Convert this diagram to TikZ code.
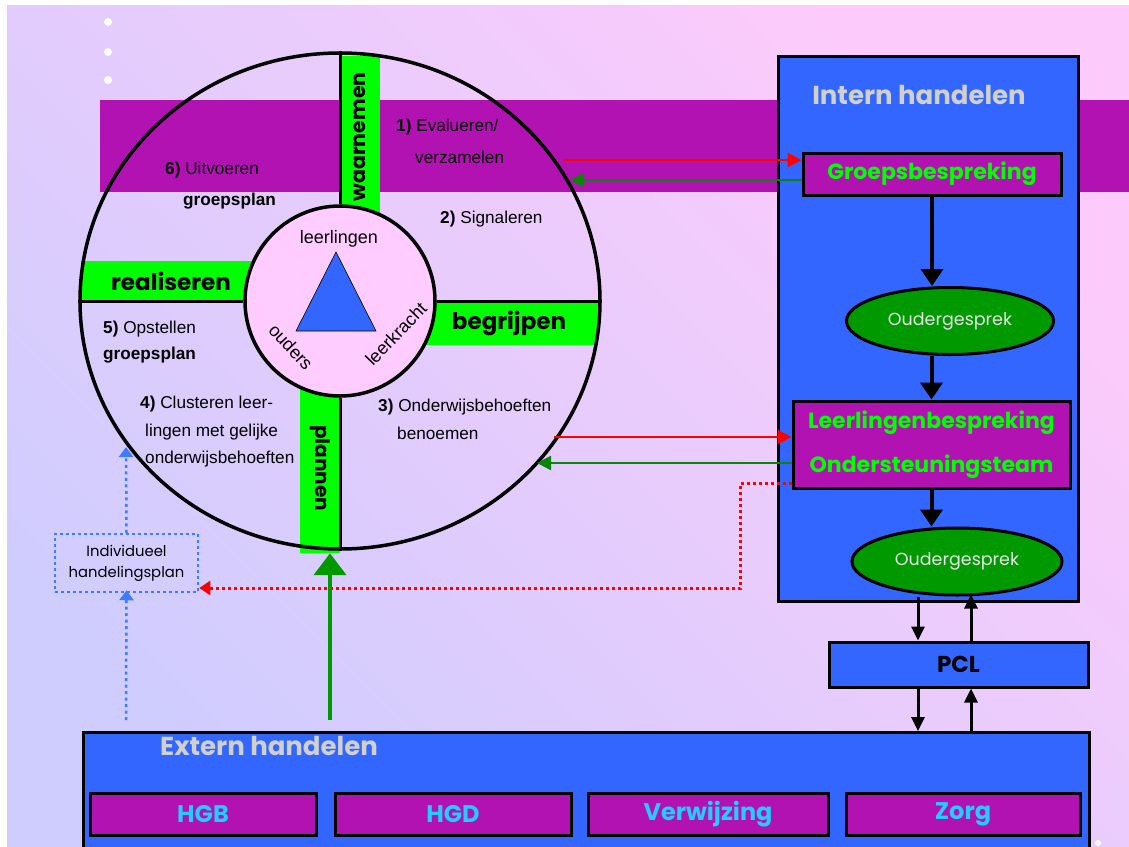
\documentclass[tikz,border=0pt]{standalone}
\usepackage{fontspec}
\setmainfont{Liberation Sans}
\newfontfamily\comic{Poppins}
\usetikzlibrary{arrows.meta,shapes.geometric,calc}
\definecolor{bgpink}{HTML}{FDCBFB}
\definecolor{bglav}{HTML}{CFCDFE}
\definecolor{band}{HTML}{B212B2}
\definecolor{stripgreen}{HTML}{00FF00}
\definecolor{boxblue}{HTML}{3366FF}
\definecolor{ovalgreen}{HTML}{009900}
\definecolor{arrgreen}{HTML}{0A850A}
\definecolor{titlegray}{HTML}{D0D0D0}
\definecolor{ovaltext}{HTML}{E6E6E6}
\definecolor{cyantext}{HTML}{22CCFF}
\definecolor{innerpink}{HTML}{FFCCFF}
\definecolor{dotblue}{HTML}{3F7BFF}
\begin{document}
\begin{tikzpicture}[x=1pt,y=-1pt,
  stripnode/.style={fill=stripgreen, inner sep=0pt, text=black},
  stripfont/.style={font=\comic\bfseries\fontsize{#1}{#1}\selectfont},
  wtext/.style={anchor=west, inner sep=0pt, text=black,
    font=\fontsize{17.2}{18}\selectfont},
  coretext/.style={inner sep=0pt, text=black, font=\fontsize{18}{18}\selectfont},
  purplebox/.style={draw=black, line width=3pt, fill=band, inner sep=0pt},
  bluebox/.style={draw=black, line width=3pt, fill=boxblue, inner sep=0pt},
  greentitle/.style={text=stripgreen, font=\comic\bfseries\fontsize{22}{44}\selectfont},
  cyantitle/.style={text=cyantext, font=\comic\bfseries\fontsize{24}{24}\selectfont},
  graytitle/.style={inner sep=0pt, text=titlegray, font=\comic\bfseries\fontsize{26}{26}\selectfont},
  oval/.style={ellipse, draw=black, line width=3pt, fill=ovalgreen, inner sep=0pt,
    text=ovaltext, font=\comic\fontsize{17.5}{18}\selectfont},
  flow/.style={line width=4pt, -{Triangle[length=17pt,width=22pt]}},
  thinflow/.style={line width=3pt, -{Triangle[length=14pt,width=13pt]}},
  redarr/.style={draw=red, line width=2.5pt, -{Triangle[length=14pt,width=14pt]}},
  greenarr/.style={draw=arrgreen, line width=2.5pt, -{Triangle[length=14pt,width=14pt]}},
  reddot/.style={draw=red, line width=3pt, dash pattern=on 3pt off 3pt,
    -{Triangle[length=11pt,width=14pt]}},
  bluedot/.style={draw=dotblue, line width=2.5pt, dash pattern=on 3pt off 3.5pt,
    -{Triangle[length=10pt,width=14pt]}},
]
\useasboundingbox (0,0) rectangle (1129,846);
% background
\fill[white] (0,0) rectangle (1129,846);
\shade[top color=bgpink, bottom color=bglav, shading angle=-45] (7,5) rectangle (1129,846);
\fill[white] (108,22) circle (4) (108,52) circle (4) (108,80) circle (4) (1098,843) circle (3);
% purple band
\fill[band] (100,100) rectangle (1129,192);

% green strips
\node[stripnode, stripfont=20.5, rotate=90, minimum width=162, minimum height=40] (waar) at (360,137) {waarnemen};
\node[stripnode, stripfont=23, minimum width=180, minimum height=40] (real) at (171,281) {realiseren};
\node[stripnode, stripfont=23, minimum width=178, minimum height=44] (begr) at (509,323) {begrijpen};
\node[stripnode, stripfont=20, rotate=-90, minimum width=170, minimum height=40] (plan) at (320,468) {plannen};

% wheel
\node[ellipse, draw=black, line width=3.5pt, minimum width=520, minimum height=496, inner sep=0pt] (wheel) at (340,301) {};
\node[circle, draw=black, line width=3.5pt, fill=innerpink, minimum size=190, inner sep=0pt] (core) at (340,301) {};
\draw[line width=3pt] (wheel.north) -- (core.north);
\draw[line width=3pt] (core.south) -- (wheel.south);
\draw[line width=3pt] (wheel.west) -- (core.west);
\draw[line width=3pt] (core.east) -- (wheel.east);

% triangle
\filldraw[fill=boxblue, draw=black, line width=0.6pt] (336,252) -- (376,331) -- (296,331) -- cycle;
\node[coretext] (lleer) at (339,239) {leerlingen};
\node[coretext, rotate=-47] (louders) at (291,347) {ouders};
\node[coretext, rotate=46] (lkracht) at (396,334) {leerkracht};

% wheel texts
\node[wtext] (t1a) at (396,127) {\textbf{1)} Evalueren/};
\node[wtext] (t1b) at (415,157) {verzamelen};
\node[wtext] (t6a) at (165,170) {\textbf{6)} Uitvoeren};
\node[wtext] (t6b) at (183,201) {\textbf{groepsplan}};
\node[wtext] (t2) at (440,219) {\textbf{2)} Signaleren};
\node[wtext] (t5a) at (103,329) {\textbf{5)} Opstellen};
\node[wtext] (t5b) at (103,355) {\textbf{groepsplan}};
\node[wtext] (t4a) at (140,404) {\textbf{4)} Clusteren leer-};
\node[wtext] (t4b) at (145,432) {lingen met gelijke};
\node[wtext] (t4c) at (145,459) {onderwijsbehoeften};
\node[wtext] (t3a) at (378,407) {\textbf{3)} Onderwijsbehoeften};
\node[wtext] (t3b) at (397,433) {benoemen};

% intern handelen
\node[bluebox, anchor=north west, minimum width=300, minimum height=545] (intern) at (777,55) {};
\node[graytitle] (interntitle) at (919,95) {Intern handelen};
\node[purplebox, greentitle, minimum width=258, minimum height=42] (gb) at (932,174) {Groepsbespreking};
\node[oval, minimum width=207, minimum height=67] (og1) at (950,321) {Oudergesprek};
\node[purplebox, greentitle, align=center, minimum width=277, minimum height=87] (lb) at (931.5,444.5) {Leerlingenbespreking\\Ondersteuningsteam};
\node[oval, minimum width=210, minimum height=67] (og2) at (957,561.5) {Oudergesprek};
\draw[flow] (gb.south) -- (gb.south |- og1.north);
\draw[flow] (lb.north |- og1.south) -- (lb.north);
\draw[flow] (lb.south) -- (lb.south |- og2.north);

% PCL and extern
\node[bluebox, minimum width=259, minimum height=45, font=\comic\bfseries\fontsize{23}{23}\selectfont] (pcl) at (958.5,664.5) {PCL};
\node[bluebox, anchor=north west, minimum width=1006, minimum height=140] (extern) at (82,731) {};
\node[graytitle, anchor=west] (externtitle) at (160,746) {Extern handelen};
\node[purplebox, cyantitle, minimum width=226, minimum height=42] (hgb) at (203,814) {HGB};
\node[purplebox, cyantitle, minimum width=236, minimum height=42] (hgd) at (453,814) {HGD};
\node[purplebox, cyantitle, minimum width=240, minimum height=42] (verw) at (708,814) {Verwijzing};
\node[purplebox, cyantitle, minimum width=234, minimum height=42] (zorg) at (963,814) {Zorg};

\coordinate (dnx) at (918,0);
\coordinate (upx) at (971,0);
\draw[thinflow] (og2.south -| dnx) -- (pcl.north -| dnx);
\draw[thinflow] (pcl.north -| upx) -- ([yshift=2pt]og2.south -| upx);
\draw[thinflow] (pcl.south -| dnx) -- (extern.north -| dnx);
\draw[thinflow] (extern.north -| upx) -- (pcl.south -| upx);

% red / green connectors
\coordinate (r1s) at (563,160);
\coordinate (g1e) at (570,180);
\coordinate (r2s) at (554,437);
\coordinate (g2e) at (537,463);
\draw[redarr] (r1s) -- (r1s -| gb.west);
\draw[greenarr] (g1e -| gb.west) -- (g1e);
\draw[redarr] (r2s) -- (r2s -| lb.west);
\draw[greenarr] (g2e -| lb.west) -- (g2e);

% individueel handelingsplan
\node[draw=dotblue, line width=2.5pt, dash pattern=on 3pt off 3pt, minimum width=143, minimum height=58,
  inner sep=0pt, align=center, font=\comic\fontsize{14.8}{21}\selectfont] (ihp) at (126.5,563) {Individueel\\handelingsplan};
\coordinate (rd) at (740,483);
\draw[reddot] (lb.west |- rd) -- (rd) |- ([yshift=-25pt]ihp.east);
\coordinate (bup) at (126,447);
\coordinate (bdn) at (126,720);
\draw[bluedot] (ihp.north) -- (bup);
\draw[bluedot] (bdn) -- ([yshift=3pt]ihp.south);

% big green arrow
\coordinate (gbig) at (330,720);
\draw[draw=ovalgreen, line width=4.5pt, -{Triangle[length=22pt,width=32pt]}] (gbig) -- (gbig |- plan.east);
\end{tikzpicture}
\end{document}
